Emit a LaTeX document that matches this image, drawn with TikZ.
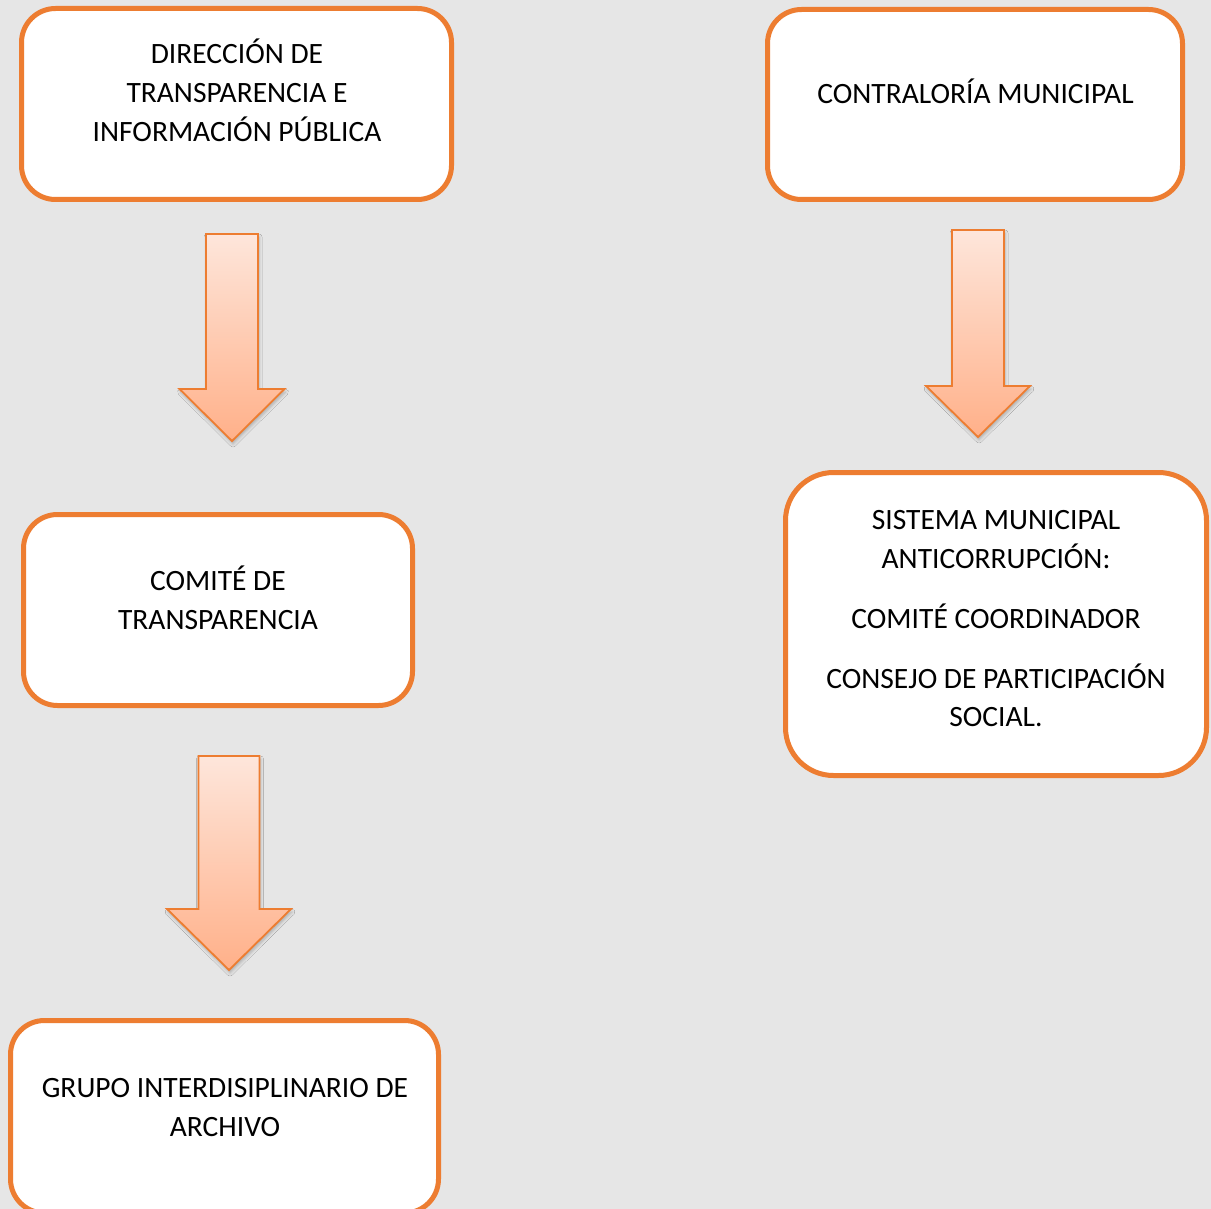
\documentclass[tikz,border=0pt]{standalone}
\usepackage{fontspec}
\setmainfont{Carlito}
\usetikzlibrary{shadows.blur}
\definecolor{bg}{HTML}{E6E6E6}
\definecolor{org}{HTML}{ED7D31}
\definecolor{atop}{HTML}{FEE6DB}
\definecolor{abot}{HTML}{FFB089}
\newcommand\blockarrow[6]{%
  \draw[barrow] (#1-#5,#2) -- (#1+#5,#2) -- (#1+#5,#3) -- (#1+#6,#3) -- (#1,#4)
     -- (#1-#6,#3) -- (#1-#5,#3) -- cycle;}
\begin{document}
\begin{tikzpicture}[x=1pt,y=-1pt,
  box/.style={draw=org, line width=5pt, fill=white, rounded corners=34pt, inner sep=0pt},
  lbl/.style={anchor=base, inner sep=0pt, font=\fontsize{29.5}{39}\selectfont, text=black},
  barrow/.style={draw=org, line width=1.8pt, top color=atop, bottom color=abot,
     line join=miter,
     blur shadow={shadow xshift=1pt, shadow yshift=-3pt, shadow blur radius=3pt, shadow opacity=25}}]
\fill[bg] (0,0) rectangle (1211,1209);
\useasboundingbox (0,0) rectangle (1211,1209);
\clip (0,0) rectangle (1211,1209);

% boxes
\node[box, minimum width=430pt, minimum height=191pt] (b1) at (236.5,104) {};
\node[box, minimum width=415pt, minimum height=190pt] (b2) at (975,104.5) {};
\node[box, minimum width=389pt, minimum height=191pt] (b3) at (218,610) {};
\node[box, minimum width=428pt, minimum height=192.5pt] (b4) at (224.5,1116.75) {};
\node[box, minimum width=421pt, minimum height=303pt, rounded corners=48pt] (b5) at (996,624) {};

% texts
\node[lbl] (t1a) at (237,64) {DIRECCIÓN DE};
\node[lbl] (t1b) at (237,103) {TRANSPARENCIA E};
\node[lbl] (t1c) at (237,142) {INFORMACIÓN PÚBLICA};

\node[lbl] (t2a) at (975.5,104) {CONTRALORÍA MUNICIPAL};

\node[lbl] (t3a) at (218,590) {COMITÉ DE};
\node[lbl] (t3b) at (218,629) {TRANSPARENCIA};

\node[lbl] (t4a) at (225,1097) {GRUPO INTERDISIPLINARIO DE};
\node[lbl] (t4b) at (225,1136) {ARCHIVO};

\node[lbl] (t5a) at (996,529) {SISTEMA MUNICIPAL};
\node[lbl] (t5b) at (996,568) {ANTICORRUPCIÓN:};
\node[lbl] (t5c) at (996,628) {COMITÉ COORDINADOR};
\node[lbl] (t5d) at (996,688) {CONSEJO DE PARTICIPACIÓN};
\node[lbl] (t5e) at (996,726) {SOCIAL.};

% block arrows
\blockarrow{232}{234}{389}{441}{26}{52.5}
\blockarrow{978}{230}{386}{437}{26}{52}
\blockarrow{229}{756}{909}{970}{30.5}{62}
\end{tikzpicture}
\end{document}
